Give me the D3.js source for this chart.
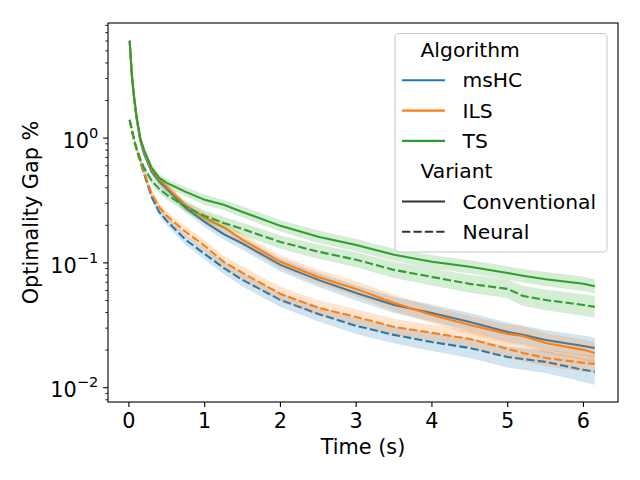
<!DOCTYPE html>
<html>
<head>
<meta charset="utf-8">
<script src="https://cdn.jsdelivr.net/npm/d3@7"></script>
<style>
  body { margin: 0; background: #fff; }
  svg { display: block; font-family: "DejaVu Sans", sans-serif; }
</style>
</head>
<body>
<div id="chart"></div>
<script>
// time axis (s)
const times = [0.01, 0.04, 0.07, 0.1, 0.15, 0.2, 0.3, 0.4, 0.5, 0.75, 1.0, 1.25, 1.5, 2.0, 2.5, 3.0, 3.5, 4.0, 4.5, 5.0, 5.2, 5.5, 6.0, 6.15];

// mean optimality gap % per algorithm / variant
const mshcConv   = [6.03, 3.10, 2.03, 1.455, 0.951, 0.748, 0.537, 0.446, 0.392, 0.276, 0.213, 0.170, 0.143, 0.0964, 0.0731, 0.0574, 0.0460, 0.0397, 0.0336, 0.0280, 0.0265, 0.0241, 0.0216, 0.0208];
const mshcNeural = [1.40, 1.14, 0.951, 0.806, 0.645, 0.517, 0.338, 0.256, 0.217, 0.153, 0.118, 0.0912, 0.0731, 0.0505, 0.0390, 0.0313, 0.0265, 0.0232, 0.0208, 0.0176, 0.0170, 0.0161, 0.0139, 0.0134];
const ilsConv    = [6.03, 3.10, 2.07, 1.482, 0.969, 0.776, 0.557, 0.463, 0.407, 0.287, 0.230, 0.193, 0.153, 0.102, 0.0772, 0.0619, 0.0478, 0.0383, 0.0318, 0.0270, 0.0260, 0.0228, 0.0201, 0.0190];
const ilsNeural  = [1.40, 1.14, 0.951, 0.821, 0.658, 0.537, 0.358, 0.281, 0.238, 0.177, 0.137, 0.102, 0.0831, 0.0564, 0.0436, 0.0369, 0.0307, 0.0275, 0.0246, 0.0204, 0.0190, 0.0173, 0.0158, 0.0155];
const tsConv     = [6.03, 3.16, 2.11, 1.509, 1.006, 0.806, 0.578, 0.480, 0.438, 0.371, 0.320, 0.292, 0.256, 0.198, 0.162, 0.139, 0.116, 0.102, 0.093, 0.083, 0.079, 0.074, 0.068, 0.065];
const tsNeural   = [1.40, 1.17, 0.969, 0.836, 0.682, 0.578, 0.455, 0.392, 0.351, 0.281, 0.238, 0.209, 0.187, 0.147, 0.123, 0.106, 0.0879, 0.0772, 0.0679, 0.0619, 0.0544, 0.0505, 0.0460, 0.0444];

// confidence band, as a multiplicative spread around the mean
const mshcConvCi   = [1.02, 1.02, 1.03, 1.03, 1.04, 1.05, 1.06, 1.07, 1.08, 1.09, 1.10, 1.11, 1.12, 1.13, 1.14, 1.15, 1.16, 1.17, 1.18, 1.19, 1.19, 1.20, 1.21, 1.21];
const mshcNeuralCi = [1.02, 1.02, 1.03, 1.04, 1.05, 1.06, 1.07, 1.08, 1.09, 1.10, 1.11, 1.12, 1.13, 1.14, 1.15, 1.16, 1.17, 1.18, 1.20, 1.21, 1.22, 1.23, 1.25, 1.27];
const ilsConvCi    = [1.02, 1.02, 1.03, 1.03, 1.04, 1.05, 1.06, 1.07, 1.08, 1.09, 1.10, 1.11, 1.12, 1.13, 1.14, 1.15, 1.16, 1.17, 1.18, 1.19, 1.19, 1.20, 1.21, 1.21];
const ilsNeuralCi  = [1.02, 1.02, 1.03, 1.04, 1.05, 1.06, 1.07, 1.08, 1.09, 1.10, 1.11, 1.12, 1.13, 1.14, 1.15, 1.15, 1.16, 1.16, 1.17, 1.17, 1.17, 1.17, 1.17, 1.17];
const tsConvCi     = [1.02, 1.02, 1.03, 1.03, 1.04, 1.05, 1.06, 1.07, 1.08, 1.09, 1.10, 1.10, 1.11, 1.11, 1.12, 1.12, 1.12, 1.13, 1.13, 1.13, 1.13, 1.14, 1.14, 1.14];
const tsNeuralCi   = [1.02, 1.02, 1.03, 1.04, 1.05, 1.06, 1.07, 1.08, 1.09, 1.10, 1.11, 1.12, 1.12, 1.13, 1.14, 1.15, 1.16, 1.17, 1.18, 1.19, 1.20, 1.21, 1.22, 1.22];

const algorithms = ["msHC", "ILS", "TS"];
const algoColors = ["#1f77b4", "#ff7f0e", "#2ca02c"];
const variants = ["Conventional", "Neural"];
const xTickValues = [0, 1, 2, 3, 4, 5, 6];
const yMajorTicks = [0.01, 0.1, 1];
const yTickExponents = ["\u22122", "\u22121", "0"];

const series = [
    { algo: 0, variant: 0, mean: mshcConv, ci: mshcConvCi },
    { algo: 0, variant: 1, mean: mshcNeural, ci: mshcNeuralCi },
    { algo: 1, variant: 0, mean: ilsConv, ci: ilsConvCi },
    { algo: 1, variant: 1, mean: ilsNeural, ci: ilsNeuralCi },
    { algo: 2, variant: 0, mean: tsConv, ci: tsConvCi },
    { algo: 2, variant: 1, mean: tsNeural, ci: tsNeuralCi }
];

const width = 640, height = 480;
const plot = { left: 108, right: 618, top: 23, bottom: 402 };
const fontSize = 20.8;
const dash = "8.3,3.1";

const svg = d3.select("#chart").append("svg")
    .attr("width", width)
    .attr("height", height);

// x limits (tick 0 at ~129px, tick 6 at ~584px)
const x = d3.scaleLinear().domain([-0.276, 6.456]).range([plot.left, plot.right]);
const y = d3.scaleLog().domain([0.00768, 8.36]).range([plot.bottom, plot.top]);

svg.append("defs").append("clipPath").attr("id", "clip")
    .append("rect")
    .attr("x", plot.left).attr("y", plot.top)
    .attr("width", plot.right - plot.left).attr("height", plot.bottom - plot.top);

const dataGroup = svg.append("g").attr("clip-path", "url(#clip)");

const area = d3.area()
    .x(d => x(d.t))
    .y0(d => y(d.lo))
    .y1(d => y(d.hi));

const line = d3.line()
    .x(d => x(d.t))
    .y(d => y(d.v));

series.forEach(s => {
    const pts = times.map((t, i) => ({ t: t, v: s.mean[i], lo: s.mean[i] / s.ci[i], hi: s.mean[i] * s.ci[i] }));
    dataGroup.append("path")
        .attr("d", area(pts))
        .attr("fill", algoColors[s.algo])
        .attr("fill-opacity", 0.2)
        .attr("stroke", "none");
    dataGroup.append("path")
        .attr("d", line(pts))
        .attr("fill", "none")
        .attr("stroke", algoColors[s.algo])
        .attr("stroke-width", 2.08)
        .attr("stroke-dasharray", s.variant === 1 ? dash : null);
});

// frame
svg.append("rect")
    .attr("x", plot.left).attr("y", plot.top)
    .attr("width", plot.right - plot.left).attr("height", plot.bottom - plot.top)
    .attr("fill", "none")
    .attr("stroke", "#000")
    .attr("stroke-width", 1.1);

// x axis
const xAxis = svg.append("g");
xTickValues.forEach(v => {
    xAxis.append("line")
        .attr("x1", x(v)).attr("x2", x(v))
        .attr("y1", plot.bottom).attr("y2", plot.bottom + 4.9)
        .attr("stroke", "#000").attr("stroke-width", 1.1);
    xAxis.append("text")
        .attr("x", x(v)).attr("y", plot.bottom + 25.5)
        .attr("text-anchor", "middle")
        .attr("font-size", fontSize)
        .text(v);
});
svg.append("text")
    .attr("x", (plot.left + plot.right) / 2).attr("y", 454)
    .attr("text-anchor", "middle")
    .attr("font-size", fontSize)
    .text("Time (s)");

// y axis (log)
const yAxis = svg.append("g");
const [yLo, yHi] = y.domain();
for (let e = -3; e <= 1; e++) {
    for (let k = 2; k <= 9; k++) {
        const v = k * Math.pow(10, e);
        if (v < yLo || v > yHi) continue;
        yAxis.append("line")
            .attr("x1", plot.left - 2.8).attr("x2", plot.left)
            .attr("y1", y(v)).attr("y2", y(v))
            .attr("stroke", "#000").attr("stroke-width", 0.83);
    }
}
yMajorTicks.forEach((v, i) => {
    yAxis.append("line")
        .attr("x1", plot.left - 4.9).attr("x2", plot.left)
        .attr("y1", y(v)).attr("y2", y(v))
        .attr("stroke", "#000").attr("stroke-width", 1.1);
    const label = yAxis.append("text")
        .attr("x", plot.left - 9.7).attr("y", y(v) + 9.8)
        .attr("text-anchor", "end")
        .attr("font-size", fontSize);
    label.append("tspan").text("10");
    label.append("tspan")
        .attr("dy", -10)
        .attr("font-size", 14.6)
        .text(yTickExponents[i]);
});
svg.append("text")
    .attr("transform", `translate(38,${(plot.top + plot.bottom) / 2}) rotate(-90)`)
    .attr("text-anchor", "middle")
    .attr("font-size", fontSize)
    .text("Optimality Gap %");

// legend
const legend = svg.append("g");
const legendFont = 20.3;
const rowH = 30.3;
const rowY0 = 50;
legend.append("rect")
    .attr("x", 395).attr("y", 33.5)
    .attr("width", 212).attr("height", 218.5)
    .attr("rx", 4).attr("ry", 4)
    .attr("fill", "#fff").attr("fill-opacity", 0.8)
    .attr("stroke", "#cccccc").attr("stroke-width", 1.1);

const legendRows = [];
legendRows.push({ title: "Algorithm" });
algorithms.forEach((a, i) => legendRows.push({ label: a, color: algoColors[i], dashed: false }));
legendRows.push({ title: "Variant" });
variants.forEach((v, i) => legendRows.push({ label: v, color: "#333333", dashed: i === 1 }));

legendRows.forEach((r, i) => {
    const cy = rowY0 + i * rowH;
    if (r.title) {
        legend.append("text")
            .attr("x", 420.5).attr("y", cy + 7)
            .attr("font-size", legendFont)
            .text(r.title);
        return;
    }
    legend.append("line")
        .attr("x1", 402).attr("x2", 445)
        .attr("y1", cy).attr("y2", cy)
        .attr("stroke", r.color)
        .attr("stroke-width", 2.08)
        .attr("stroke-dasharray", r.dashed ? dash : null);
    legend.append("text")
        .attr("x", 462.5).attr("y", cy + 7)
        .attr("font-size", legendFont)
        .text(r.label);
});
</script>
</body>
</html>
